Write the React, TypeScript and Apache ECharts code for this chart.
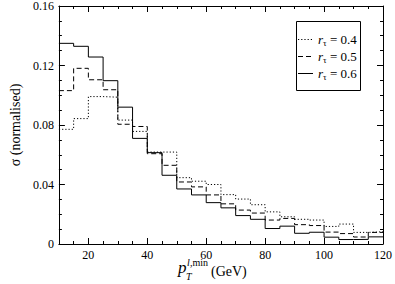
import React, { useEffect, useRef } from "react";
import * as echarts from "echarts";

const binStarts = [10, 15, 20, 25, 30, 35, 40, 45, 50, 55, 60, 65, 70, 75, 80, 85, 90, 95, 100, 105, 110, 115];
const binEnd = 120;
const r04 = [0.0771, 0.0843, 0.0991, 0.0987, 0.0833, 0.0757, 0.0618, 0.0618, 0.0446, 0.0422, 0.0400, 0.0332, 0.0302, 0.0264, 0.0216, 0.0183, 0.0166, 0.0161, 0.0118, 0.0134, 0.0078, 0.0082];
const r05 = [0.1031, 0.1181, 0.1104, 0.1037, 0.0805, 0.0790, 0.0607, 0.0529, 0.0417, 0.0384, 0.0330, 0.0270, 0.0228, 0.0208, 0.0161, 0.0172, 0.0130, 0.0124, 0.0080, 0.0070, 0.0047, 0.0078];
const r06 = [0.1349, 0.1329, 0.1257, 0.1098, 0.0920, 0.0710, 0.0614, 0.0462, 0.0370, 0.0330, 0.0278, 0.0243, 0.0191, 0.0166, 0.0104, 0.0120, 0.0072, 0.0079, 0.0046, 0.0030, 0.0031, 0.0048];
const seriesNames = ["0.4", "0.5", "0.6"];
const xMajorTicks = [20, 40, 60, 80, 100, 120];

const FONT = "Liberation Serif";
const dashes: any[] = [[1.2, 2], [5, 3], null];

function toSteps(vals: number[]) {
  const pts = binStarts.map((x, i) => [x, vals[i]]);
  pts.push([binEnd, vals[vals.length - 1]]);
  return pts;
}

const rich = {
  r: { fontFamily: FONT, fontSize: 13, fontStyle: "italic", fill: "#000", color: "#000" },
  s: { fontFamily: FONT, fontSize: 9, fill: "#000", color: "#000", verticalAlign: "bottom", padding: [6, 0, 0, 0] },
  t: { fontFamily: FONT, fontSize: 13, fill: "#000", color: "#000" },
};

export default function App() {
  const ref = useRef<HTMLDivElement>(null);
  useEffect(() => {
    document.body.style.margin = "0";
    const chart = echarts.init(ref.current!, null, { renderer: "svg" });
    const axisLine = { show: true, lineStyle: { color: "#000", width: 1 } };
    const baseX = { type: "value", min: 10, max: 120, splitLine: { show: false } };

    const legendGraphics: any[] = [
      { type: "rect", z: 100, shape: { x: 296.5, y: 21.5, width: 64, height: 69 }, style: { fill: "#fff", stroke: "#000", lineWidth: 1 } },
    ];
    seriesNames.forEach((name, i) => {
      const y = 39.5 + i * 17;
      legendGraphics.push({
        type: "line", z: 101,
        shape: { x1: 298, y1: y, x2: 313, y2: y },
        style: { stroke: "#000", lineWidth: 1, lineDash: dashes[i] || undefined },
      });
      legendGraphics.push({
        type: "text", z: 101, x: 318, y: y,
        style: { text: `{r|r}{s|τ}{t| = ${name}}`, rich, fill: "#000", fontFamily: FONT, fontSize: 13, textVerticalAlign: "middle" },
      });
    });

    const option: any = {
      animation: false,
      backgroundColor: "#fff",
      grid: { left: 42, right: 11, top: 5, bottom: 40 },
      xAxis: [
        {
          ...baseX, position: "bottom", interval: 5, axisLine,
          axisTick: { show: true, inside: true, length: 3, lineStyle: { color: "#000" } },
          axisLabel: { show: true, customValues: xMajorTicks, formatter: (v: number) => String(v), color: "#000", fontFamily: FONT, fontSize: 12, margin: 5 },
        },
        {
          ...baseX, position: "bottom", axisLine: { show: false },
          axisTick: { show: true, inside: true, length: 6, customValues: xMajorTicks, lineStyle: { color: "#000" } },
          axisLabel: { show: false },
        },
        {
          ...baseX, position: "top", interval: 5, axisLine,
          axisTick: { show: true, inside: true, length: 3, lineStyle: { color: "#000" } },
          axisLabel: { show: false },
        },
        {
          ...baseX, position: "top", axisLine: { show: false },
          axisTick: { show: true, inside: true, length: 6, customValues: xMajorTicks, lineStyle: { color: "#000" } },
          axisLabel: { show: false },
        },
      ],
      yAxis: [
        {
          type: "value", min: 0, max: 0.16, interval: 0.04, position: "left", axisLine,
          splitLine: { show: false },
          axisTick: { show: true, inside: true, length: 6, lineStyle: { color: "#000" } },
          minorTick: { show: true, splitNumber: 4, length: 3, lineStyle: { color: "#000" } },
          axisLabel: {
            color: "#000", fontFamily: FONT, fontSize: 12, margin: 5,
            formatter: (v: number) => (v === 0 ? "0" : v.toFixed(2)),
          },
          name: "σ (normalised)", nameLocation: "middle", nameGap: 31, nameRotate: 90,
          nameTextStyle: { color: "#000", fontFamily: FONT, fontSize: 14 },
        },
        {
          type: "value", min: 0, max: 0.16, interval: 0.04, position: "right", axisLine,
          splitLine: { show: false },
          axisTick: { show: true, inside: true, length: 6, lineStyle: { color: "#000" } },
          minorTick: { show: true, splitNumber: 4, length: 3, lineStyle: { color: "#000" } },
          axisLabel: { show: false },
        },
      ],
      graphic: [
        ...legendGraphics,
        { type: "text", x: 178, y: 276, style: { text: "p", fontFamily: FONT, fontSize: 17, fontStyle: "italic", fill: "#000", textVerticalAlign: "bottom" } },
        { type: "text", x: 186, y: 281, style: { text: "T", fontFamily: FONT, fontSize: 10, fontStyle: "italic", fill: "#000", textVerticalAlign: "bottom" } },
        { type: "text", x: 187, y: 267, style: { text: "l", fontFamily: FONT, fontSize: 10, fontStyle: "italic", fill: "#000", textVerticalAlign: "bottom" } },
        { type: "text", x: 190, y: 267, style: { text: ",min", fontFamily: FONT, fontSize: 10, fill: "#000", textVerticalAlign: "bottom" } },
        { type: "text", x: 211, y: 278, style: { text: "(GeV)", fontFamily: FONT, fontSize: 14, fill: "#000", textVerticalAlign: "bottom" } },
      ],
      series: [
        { name: "0.4", type: "line", step: "end", showSymbol: false, symbol: "none", data: toSteps(r04), lineStyle: { color: "#000", width: 1, type: [1.2, 2] } },
        { name: "0.5", type: "line", step: "end", showSymbol: false, symbol: "none", data: toSteps(r05), lineStyle: { color: "#000", width: 1, type: [5, 3] } },
        { name: "0.6", type: "line", step: "end", showSymbol: false, symbol: "none", data: toSteps(r06), lineStyle: { color: "#000", width: 1, type: "solid" } },
      ],
    };
    chart.setOption(option);
    return () => chart.dispose();
  }, []);
  return <div ref={ref} style={{ width: 395, height: 284 }} />;
}
